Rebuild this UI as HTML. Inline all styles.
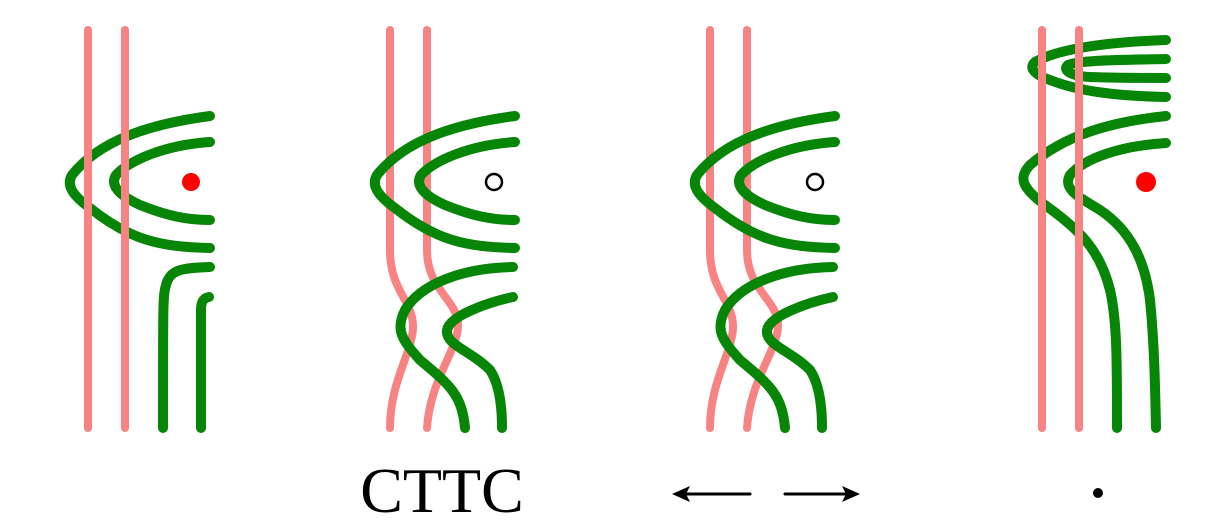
<!DOCTYPE html>
<html><head><style>html,body{margin:0;padding:0;background:#fff;}svg{display:block}</style></head>
<body>
<svg width="1224" height="525" viewBox="0 0 1224 525" xmlns="http://www.w3.org/2000/svg">
<g fill="none" stroke-linecap="round">
<!-- Panel 1 -->
<g stroke="#078507" stroke-width="10">
<path d="M210,116 C150,124 100,140 72,175 C66,185 72,195 90,208 C130,240 160,247 210,248"/>
<path d="M210,142 C165,145 130,160 116,175 C110,185 118,195 140,205 C165,215 185,220 210,220"/>
<path d="M210,267 C180,268 170,270 166,285 C163,295 163,300 163,428"/>
<path d="M209,297 C203,298 201,302 201,310 L201,428"/>
</g>
<g stroke="#f88383" stroke-width="8">
<path d="M88,30 L88,428"/><path d="M125,30 L125,428"/>
</g>
<circle cx="191" cy="182" r="9" fill="#f00" stroke="none"/>

<!-- Panel 2 -->
<g stroke="#f88383" stroke-width="8">
<path d="M390,30 L390,250 C390,290 412,300 413,325 C414,350 390,380 390,428"/>
<path d="M427,30 L427,250 C427,290 458,300 458,325 C458,350 430,380 427,428"/>
</g>
<g stroke="#078507" stroke-width="10">
<path d="M515,116 C455,124 405,140 377,175 C371,185 377,195 395,208 C435,240 465,247 515,248"/>
<path d="M515,142 C470,145 435,160 421,175 C415,185 423,195 445,205 C470,215 490,220 515,220"/>
<path d="M513,267 C460,268 420,285 405,310 C395,330 402,340 420,360 C450,385 462,395 465,428"/>
<path d="M513,297 C490,302 450,315 447,330 C445,345 470,350 490,370 C500,385 502,410 502,428"/>
</g>
<circle cx="494" cy="182" r="8" fill="none" stroke="#000" stroke-width="2.5"/>

<!-- Panel 3 -->
<g transform="translate(320,0)">
<g stroke="#f88383" stroke-width="8">
<path d="M390,30 L390,250 C390,290 412,300 413,325 C414,350 390,380 390,428"/>
<path d="M427,30 L427,250 C427,290 458,300 458,325 C458,350 430,380 427,428"/>
</g>
<g stroke="#078507" stroke-width="10">
<path d="M515,116 C455,124 405,140 377,175 C371,185 377,195 395,208 C435,240 465,247 515,248"/>
<path d="M515,142 C470,145 435,160 421,175 C415,185 423,195 445,205 C470,215 490,220 515,220"/>
<path d="M513,267 C460,268 420,285 405,310 C395,330 402,340 420,360 C450,385 462,395 465,428"/>
<path d="M513,297 C490,302 450,315 447,330 C445,345 470,350 490,370 C500,385 502,410 502,428"/>
</g>
<circle cx="495" cy="182" r="8" fill="none" stroke="#000" stroke-width="2.5"/>
</g>

<!-- Panel 4 -->
<g stroke="#078507" stroke-width="10">
<path d="M1166,40 C1110,42 1060,48 1035,62 C1028,68 1035,75 1050,80 C1080,92 1120,96 1166,97"/>
<path d="M1166,59 C1120,60 1080,60 1068,65 C1062,70 1070,76 1090,77 C1120,78 1140,78 1166,78"/>
<path d="M1166,116 C1110,122 1065,135 1030,165 C1018,178 1022,188 1045,205 C1080,230 1100,250 1110,290 C1117,320 1117,360 1117,428"/>
<path d="M1166,143 C1120,146 1085,158 1070,175 C1063,188 1075,195 1100,210 C1130,230 1145,260 1150,300 C1154,340 1155,380 1156,428"/>
</g>
<g stroke="#f88383" stroke-width="8">
<path d="M1042,30 L1042,428"/><path d="M1079,30 L1079,428"/>
</g>
<circle cx="1146" cy="182" r="10" fill="#f00" stroke="none"/>

<!-- Labels -->
<g stroke="#000" stroke-width="3">
<path d="M750,494 L682,494"/><path d="M785,494 L850,494"/>
</g>
<path d="M672,494 L690,486 L686,494 L690,502 Z" fill="#000"/>
<path d="M860,494 L842,486 L846,494 L842,502 Z" fill="#000"/>
<circle cx="1098" cy="493" r="5" fill="#000"/>
</g>
<text x="442" y="512" text-anchor="middle" font-family="Liberation Serif, serif" font-size="64" fill="#000">CTTC</text>
</svg>
</body></html>
